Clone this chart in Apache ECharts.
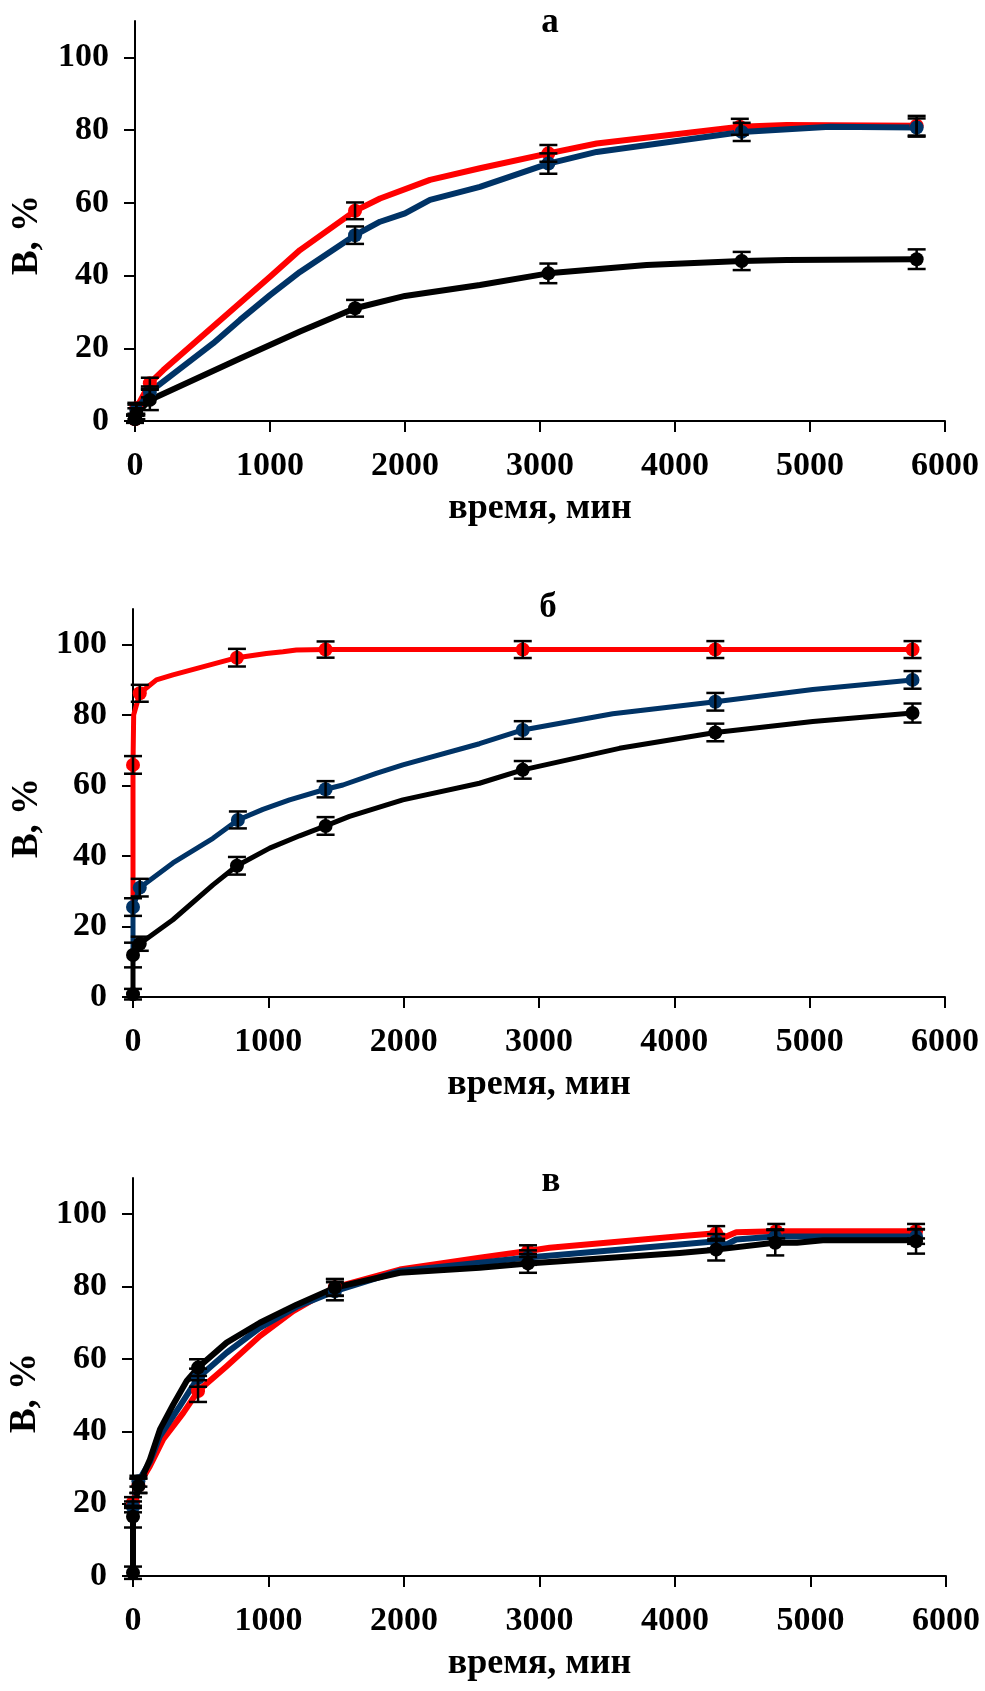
<!DOCTYPE html>
<html>
<head>
<meta charset="utf-8">
<title>В, % — время, мин</title>
<script src="https://cdn.jsdelivr.net/npm/echarts@6/dist/echarts.min.js"></script>
<style>
  html, body {margin: 0; padding: 0; background: #fff;}
  #chart {width: 985px; height: 1691px;}
</style>
</head>
<body>
<div id="chart"></div>
<script>
(function(){
  'use strict';

  /*
    axis ticks and panel captions
  */
  var xTicks = [0, 1000, 2000, 3000, 4000, 5000, 6000],
      yTicks = [0, 20, 40, 60, 80, 100],
      panelTitles = ['а', 'б', 'в'],
      xName = 'время, мин',
      yName = 'В, %';

  /*
    panel а: curves [t, B] and measured points [t, B, error]
  */
  var aRedLine = [[0,0.5],[10,3.5],[110,10.4],[210,14],[1000,39.7],[1222,47],[1630,57.8],[1815,61.2],[2185,66.3],[2555,69.5],[3062,73.6],[3420,76.3],[4480,80.9],[4827,81.4],[5790,81.2]];
  var aBlueLine = [[0,0.8],[10,3],[110,8],[580,21.4],[778,27.8],[1000,34.6],[1222,41],[1630,51.1],[1815,54.8],[2000,57.1],[2185,60.8],[2555,64.4],[3062,70.8],[3420,74],[4494,79.5],[5148,80.9],[5790,80.7]];
  var aBlackLine = [[0,0.5],[10,2],[110,5.8],[778,17.2],[1222,24.6],[1630,31],[2000,34.4],[2555,37.4],[3062,40.6],[3790,42.9],[4494,44],[4827,44.3],[5790,44.5]];
  var aRedPts = [[0,0.5,1],[10,3.5,1.5],[110,10.4,1.5],[1630,57.8,2.3],[3062,73.6,2.3],[4480,80.9,2.2],[5790,81.2,2.7]];
  var aBluePts = [[0,0.8,1],[10,3,1.5],[110,8,1.5],[1630,51.1,2.4],[3062,70.8,2.8],[4494,79.5,2.5],[5790,80.7,2.5]];
  var aBlackPts = [[0,0.5,1],[10,2,1.5],[110,5.8,2.8],[1630,31,2.3],[3062,40.6,2.7],[4494,44,2.5],[5790,44.5,2.7]];

  /*
    panel б
  */
  var bRedLine = [[0,27.6],[0,65.8],[5,80],[50,86.1],[173,89.9],[295,91.3],[768,96.2],[985,97.4],[1108,97.9],[1207,98.4],[1423,98.5],[2880,98.5],[4303,98.5],[5760,98.5]];
  var bBlueLine = [[0,13.7],[0,25.5],[50,31],[295,38],[591,45],[775,50.2],[960,53.2],[1157,55.9],[1423,58.9],[1551,60.1],[1797,63.4],[1994,65.8],[2560,71.8],[2880,75.7],[3545,80.3],[4303,83.7],[5023,87.2],[5760,89.9]];
  var bBlackLine = [[0,0.8],[0,11.9],[50,15.1],[295,21.9],[591,31.8],[768,37.2],[1010,42.2],[1231,45.7],[1423,48.5],[1600,51.2],[1994,55.9],[2560,60.6],[2880,64.4],[3594,70.5],[4303,75],[5023,78.1],[5760,80.5]];
  var bRedPts = [[0,65.8,2.5],[50,86.1,2.4],[768,96.2,2.5],[1423,98.5,2.3],[2880,98.5,2.4],[4303,98.5,2.4],[5760,98.5,2.4]];
  var bBluePts = [[0,25.5,2.5],[50,31,2.5],[775,50.2,2.4],[1423,58.9,2.3],[2880,75.7,2.5],[4303,83.7,2.5],[5760,89.9,2.5]];
  var bBlackPts = [[0,0.8,1.5],[0,11.9,3.5],[50,15.1,2],[768,37.2,2.5],[1423,48.5,2.5],[2880,64.4,2.5],[4303,75,2.5],[5760,80.5,2.7]];

  /*
    panel в
  */
  var cRedLine = [[0,20.3],[40,25],[125,30.4],[223,37.8],[371,45.1],[480,51.1],[691,58],[936,66.3],[1182,73.2],[1490,79.8],[1969,84.7],[2559,88],[2915,89.8],[3075,90.7],[4034,93.9],[4304,94.7],[4378,93.8],[4452,95],[4747,95.3],[5779,95.3]];
  var cBlueLine = [[0,19.1],[40,26.2],[125,31.6],[199,38.7],[347,47],[480,54.8],[691,61.7],[936,68.6],[1207,74.4],[1490,78.7],[1969,84.3],[2559,86.6],[2915,88],[4034,91.6],[4304,92.5],[4378,91.6],[4452,93],[4740,93.8],[5779,93.8]];
  var cBlackLine = [[0,0.9],[0,16.4],[40,24.9],[125,32.2],[199,40.5],[297,47.4],[396,53.9],[480,57.6],[691,64.5],[936,70],[1207,75],[1490,79.7],[1969,83.8],[2559,85.2],[2915,86.4],[4034,89.3],[4304,90.2],[4734,92.1],[4900,92.1],[5091,92.8],[5779,92.8]];
  var cRedPts = [[0,20.3,1.5],[40,25,2],[480,51.1,3],[1490,79.8,2.3],[2915,89.8,1.6],[4304,94.7,2],[4747,95.3,2],[5779,95.3,2]];
  var cBluePts = [[0,19.1,1.5],[40,26.2,1.5],[480,54.8,2.5],[1490,78.7,2.5],[2915,88,2],[4304,92.5,2],[4740,93.8,2],[5779,93.8,2]];
  var cBlackPts = [[0,0.9,1.7],[0,16.4,3],[40,24.9,2],[480,57.6,2.3],[1490,79.7,2.3],[2915,86.4,2.6],[4304,90.2,3],[4740,92.1,3.5],[5779,92.5,3.4]];

  /* ----------------- split ----------------- */

  var colors = ['#ff0000', '#003366', '#000000'],
      serif = '"Liberation Serif", "Times New Roman", serif';

  var extend = function(a, b){
    for (var k in b) { if (b.hasOwnProperty(k)) a[k] = b[k]; }
    return a;
  };

  /*
    panel setting
      grid:  plot area in px
      width: line width
      yname: centre of the rotated y name
  */
  var panels = [
    {grid: {left: 135, top: 21, width: 810, height: 400}, width: 6, yname: [27, 235], title: [550, 23],
     lines: [aRedLine, aBlueLine, aBlackLine], pts: [aRedPts, aBluePts, aBlackPts]},
    {grid: {left: 133, top: 609, width: 812, height: 388}, width: 5, yname: [27, 818], title: [548, 608],
     lines: [bRedLine, bBlueLine, bBlackLine], pts: [bRedPts, bBluePts, bBlackPts]},
    {grid: {left: 133, top: 1178, width: 813, height: 398}, width: 6, yname: [25, 1393], title: [551, 1182],
     lines: [cRedLine, cBlueLine, cBlackLine], pts: [cRedPts, cBluePts, cBlackPts]}
  ];

  // error bar: vertical stroke with two caps
  var renderErr = function(params, api){
    var t = api.value(0), v = api.value(1), e = api.value(2),
        hi = api.coord([t, v + e]),
        lo = api.coord([t, v - e]),
        w = 9,
        style = {stroke: '#000', lineWidth: 2.5};
    return {
      type: 'group',
      children: [
        {type: 'line', shape: {x1: hi[0], y1: hi[1], x2: lo[0], y2: lo[1]}, style: style},
        {type: 'line', shape: {x1: hi[0] - w, y1: hi[1], x2: hi[0] + w, y2: hi[1]}, style: style},
        {type: 'line', shape: {x1: lo[0] - w, y1: lo[1], x2: lo[0] + w, y2: lo[1]}, style: style}
      ]
    };
  };

  var axisLine = {show: true, lineStyle: {color: '#000', width: 2}},
      axisTick = {show: true, inside: false, length: 11, lineStyle: {color: '#000', width: 2}},
      labelFont = {color: '#000', fontFamily: serif, fontWeight: 'bold', fontSize: 34},
      plain = function(v){ return String(v); };

  var grids = [], xAxes = [], yAxes = [], series = [], graphics = [];

  panels.forEach(function(p, i){
    grids.push(p.grid);

    xAxes.push({
      gridIndex: i, type: 'value', min: 0, max: 6000, interval: 1000,
      axisLine: axisLine, axisTick: extend({customValues: xTicks}, axisTick), splitLine: {show: false},
      axisLabel: extend({margin: 28, customValues: xTicks, formatter: plain}, labelFont),
      name: xName, nameLocation: 'middle', nameGap: 70,
      nameTextStyle: {color: '#000', fontFamily: serif, fontWeight: 'bold', fontSize: 36}
    });

    yAxes.push({
      gridIndex: i, type: 'value', min: 0, max: 110,
      axisLine: axisLine, splitLine: {show: false},
      axisTick: extend({customValues: yTicks}, axisTick),
      axisLabel: extend({margin: 26, customValues: yTicks, formatter: plain}, labelFont)
    });

    // 1. curves, 2. points, 3. error bars
    p.lines.forEach(function(line, k){
      series.push({
        type: 'line', xAxisIndex: i, yAxisIndex: i, data: line,
        showSymbol: false, symbol: 'none', z: 2 + k * 0.1,
        lineStyle: {color: colors[k], width: p.width, join: 'round', cap: 'round'}, silent: true
      });
    });
    p.pts.forEach(function(pts, k){
      series.push({
        type: 'scatter', xAxisIndex: i, yAxisIndex: i, symbolSize: 14, z: 3 + k * 0.1,
        itemStyle: {color: colors[k], opacity: 1}, data: pts.map(function(d){ return [d[0], d[1]]; })
      });
      series.push({
        type: 'custom', xAxisIndex: i, yAxisIndex: i, z: 4,
        renderItem: renderErr, encode: {x: 0, y: 1}, data: pts
      });
    });

    graphics.push({
      type: 'text', x: p.yname[0], y: p.yname[1], rotation: Math.PI / 2,
      style: {text: yName, font: 'bold 37px ' + serif, fill: '#000', align: 'center', verticalAlign: 'middle'}
    });
    graphics.push({
      type: 'text', x: p.title[0], y: p.title[1],
      style: {text: panelTitles[i], font: 'bold 35px ' + serif, fill: '#000', align: 'center', verticalAlign: 'middle'}
    });
  });

  echarts.init(document.getElementById('chart')).setOption({
    animation: false,
    backgroundColor: '#fff',
    grid: grids,
    xAxis: xAxes,
    yAxis: yAxes,
    series: series,
    graphic: graphics
  });
})();
</script>
</body>
</html>
